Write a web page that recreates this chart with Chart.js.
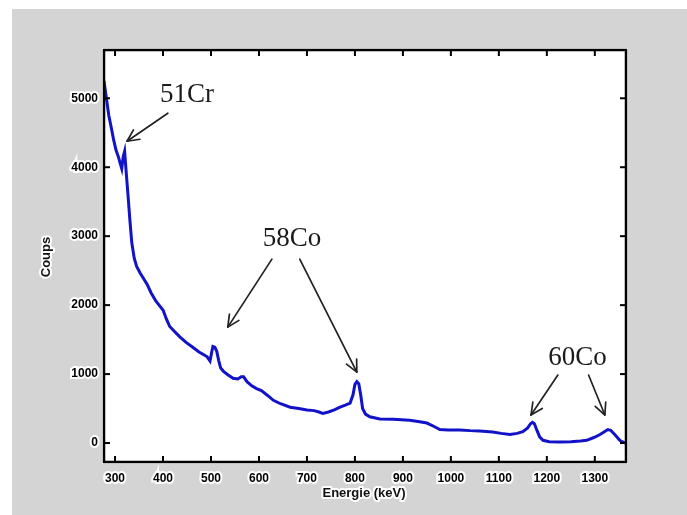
<!DOCTYPE html>
<html>
<head>
<meta charset="utf-8">
<script src="https://cdn.jsdelivr.net/npm/chart.js@4.4.1/dist/chart.umd.min.js"></script>
<style>
html,body{margin:0;padding:0;background:#fff;}
#wrap{width:687px;height:515px;position:relative;}
</style>
</head>
<body>
<div id="wrap"><canvas id="c" width="687" height="515"></canvas></div>
<script>
// ---- data ----
const energy = [277,282,287,292,297,302,307,311,314,317,320,323,327,331,335,340,345,352,360,367,375,385,393,400,407,414,425,435,448,462,475,485,492,498,501,504,508,512,516,520,526,535,546,556,563,568,575,585,595,605,618,630,645,665,683,700,715,725,733,745,757,769,780,790,796,800,804,808,812,816,822,831,852,880,914,935,950,965,977,995,1019,1040,1060,1087,1105,1123,1138,1150,1160,1166,1170,1174,1179,1185,1192,1205,1227,1250,1270,1283,1298,1310,1320,1327,1333,1342,1352,1358,1365];
const counts = [5250,5000,4750,4580,4400,4250,4150,4050,3980,4150,4230,3950,3600,3230,2900,2680,2560,2470,2380,2300,2180,2060,1990,1930,1800,1690,1610,1540,1460,1390,1320,1280,1250,1190,1300,1400,1390,1330,1200,1090,1040,990,940,930,960,960,890,830,790,760,690,620,570,520,500,480,470,450,430,450,480,520,550,580,700,850,890,860,700,500,420,380,350,345,330,310,290,240,195,190,190,180,175,160,140,125,140,165,220,280,300,280,190,90,40,20,15,20,30,40,80,120,165,195,185,120,40,15,0];
const xTicks = [300,400,500,600,700,800,900,1000,1100,1200,1300];
const yTicks = [0,1000,2000,3000,4000,5000];
const xTitle = 'Energie (keV)';
const yTitle = 'Coups';
// annotations: label text, label position [keV, counts], arrows [[x0,y0],[x1,y1]] in data units
const annLabels = ['51Cr','58Co','60Co'];
const annLabelPos = [[450,5043],[669,2957],[1264,1232]];
const annArrows = [
  [[[410,4783],[325,4377]]],
  [[[627,2667],[535,1681]],[[685,2667],[804,1029]]],
  [[[1223,986],[1167,406]],[[1287,986],[1321,406]]]
];

const points = energy.map((e,i)=>({x:e,y:counts[i]}));

const decor = {
  id:'decor',
  beforeDraw(chart){
    const ctx=chart.ctx, a=chart.chartArea;
    ctx.save();
    ctx.fillStyle='#ffffff';
    ctx.fillRect(0,0,chart.width,chart.height);
    ctx.fillStyle='#d4d4d4';
    ctx.fillRect(12,9,chart.width-12,chart.height-9);
    ctx.fillStyle='#ffffff';
    ctx.fillRect(a.left-2,a.top-2,a.right-a.left+4,a.bottom-a.top+4);
    ctx.restore();
  },
  afterDraw(chart){
    const ctx=chart.ctx, a=chart.chartArea, xs=chart.scales.x, ys=chart.scales.y;
    ctx.save();
    ctx.strokeStyle='#000'; ctx.lineWidth=2.5;
    ctx.strokeRect(a.left,a.top,a.right-a.left,a.bottom-a.top);
    ctx.lineWidth=2;
    xTicks.forEach(v=>{const px=xs.getPixelForValue(v);
      ctx.beginPath();ctx.moveTo(px,a.bottom);ctx.lineTo(px,a.bottom-6);ctx.stroke();
      ctx.beginPath();ctx.moveTo(px,a.top);ctx.lineTo(px,a.top+6);ctx.stroke();});
    yTicks.forEach(v=>{const py=ys.getPixelForValue(v);
      ctx.beginPath();ctx.moveTo(a.left,py);ctx.lineTo(a.left+6,py);ctx.stroke();
      ctx.beginPath();ctx.moveTo(a.right,py);ctx.lineTo(a.right-6,py);ctx.stroke();});
    ctx.font='bold 13px "Liberation Sans", Arial, sans-serif';
    ctx.textAlign='center'; ctx.textBaseline='middle';
    ctx.lineJoin='round';
    ctx.strokeStyle='#fff'; ctx.lineWidth=4; ctx.fillStyle='#111';
    const cx=(a.left+a.right)/2;
    ctx.strokeText(xTitle,cx-1,493); ctx.fillText(xTitle,cx-1,493);
    ctx.save(); ctx.translate(46,257); ctx.rotate(-Math.PI/2);
    ctx.strokeText(yTitle,0,0); ctx.fillText(yTitle,0,0); ctx.restore();
    ctx.font='27px "Liberation Serif", "Times New Roman", serif';
    ctx.fillStyle='#1a1a1a';
    annLabels.forEach((t,i)=>{
      ctx.fillText(t, xs.getPixelForValue(annLabelPos[i][0]), ys.getPixelForValue(annLabelPos[i][1]));
    });
    ctx.strokeStyle='#222'; ctx.lineWidth=1.7; ctx.lineCap='round';
    annArrows.forEach(list=>list.forEach(([p0,p1])=>{
      const x0=xs.getPixelForValue(p0[0]), y0=ys.getPixelForValue(p0[1]);
      const x1=xs.getPixelForValue(p1[0]), y1=ys.getPixelForValue(p1[1]);
      ctx.beginPath(); ctx.moveTo(x0,y0); ctx.lineTo(x1,y1); ctx.stroke();
      const ang=Math.atan2(y1-y0,x1-x0), L=13, w=0.45;
      ctx.beginPath();
      ctx.moveTo(x1-L*Math.cos(ang-w), y1-L*Math.sin(ang-w));
      ctx.lineTo(x1,y1);
      ctx.lineTo(x1-L*Math.cos(ang+w), y1-L*Math.sin(ang+w));
      ctx.stroke();
    }));
    ctx.restore();
  }
};

const tickFont = {family:'"Liberation Sans", Arial, sans-serif', size:12, weight:'bold'};

new Chart(document.getElementById('c'),{
  type:'line',
  data:{datasets:[{data:points, borderColor:'#1212c8', borderWidth:3, pointRadius:0, tension:0, fill:false}]},
  options:{
    responsive:false, animation:false, devicePixelRatio:1,
    layout:{padding:{top:50,right:61,left:0,bottom:0}},
    plugins:{legend:{display:false},tooltip:{enabled:false}},
    scales:{
      x:{type:'linear', min:277, max:1365,
        afterBuildTicks:s=>{s.ticks=xTicks.map(v=>({value:v}));},
        afterFit:s=>{s.height=53;},
        grid:{display:false, drawTicks:false}, border:{display:false},
        ticks:{font:tickFont, color:'#000', padding:9, maxRotation:0, autoSkip:false,
          textStrokeColor:'#fff', textStrokeWidth:4, callback:v=>String(v)}},
      y:{type:'linear', min:-275, max:5700,
        afterBuildTicks:s=>{s.ticks=yTicks.map(v=>({value:v}));},
        afterFit:s=>{s.width=104;},
        grid:{display:false, drawTicks:false}, border:{display:false},
        ticks:{font:tickFont, color:'#000', padding:6, autoSkip:false,
          textStrokeColor:'#fff', textStrokeWidth:4, callback:v=>String(v)}}
    }
  },
  plugins:[decor]
});
</script>
</body>
</html>
